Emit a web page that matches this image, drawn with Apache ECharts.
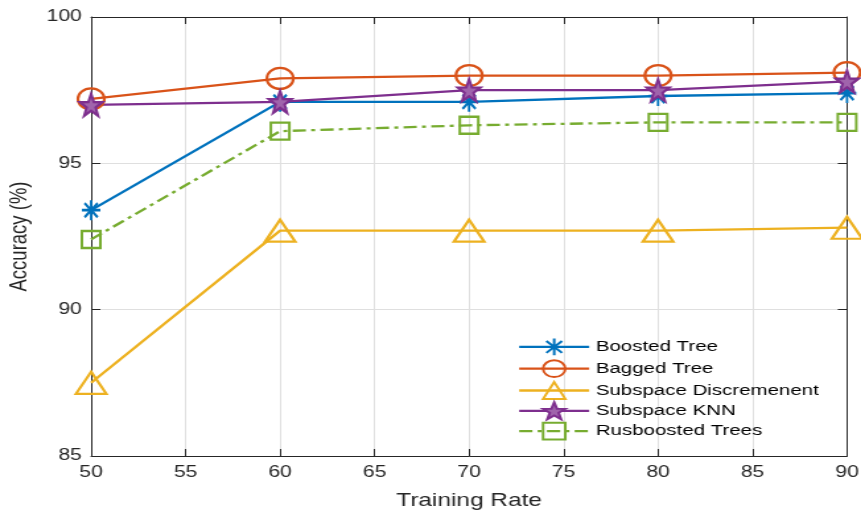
<!DOCTYPE html>
<html>
<head>
    <meta charset="UTF-8">
    <title>Accuracy vs Training Rate</title>
    <script src="https://cdn.jsdelivr.net/npm/echarts@6/dist/echarts.min.js"></script>
    <style>
        html, body { margin: 0; padding: 0; background: #fff; overflow: hidden; }
        /* the source figure is stretched horizontally, so draw narrower and widen */
        #chart { width: 652px; height: 513px; transform: scaleX(1.3206); transform-origin: 0 0; }
    </style>
</head>
<body>
    <div id="chart"></div>
    <script>
        var rates = [50, 60, 70, 80, 90];
        var boosted = [93.4, 97.1, 97.1, 97.3, 97.4];
        var bagged = [97.2, 97.9, 98.0, 98.0, 98.1];
        var subDisc = [87.5, 92.7, 92.7, 92.7, 92.8];
        var subKnn = [97.0, 97.1, 97.5, 97.5, 97.8];
        var rusboosted = [92.4, 96.1, 96.3, 96.4, 96.4];
        var names = ['Boosted Tree', 'Bagged Tree', 'Subspace Discremenent', 'Subspace KNN', 'Rusboosted Trees'];

        var font = 'Liberation Sans, Arial, sans-serif';
        var axisCol = '#262626';
        var asterisk = 'path://M0,-10L0,10M-10,0L10,0M-7.07,-7.07L7.07,7.07M-7.07,7.07L7.07,-7.07';
        var star = 'path://M0,-10L2.35,-3.24L9.51,-3.09L3.8,1.24L5.88,8.09L0,4L-5.88,8.09L-3.8,1.24L-9.51,-3.09L-2.35,-3.24Z';

        function pairs(vals) {
            return rates.map(function (r, i) { return [r, vals[i]]; });
        }

        function mk(name, vals, color, symbol, size, lineType, fill) {
            return {
                name: name,
                type: 'line',
                data: pairs(vals),
                symbol: symbol,
                symbolSize: size,
                showAllSymbol: true,
                lineStyle: { color: color, width: 2.3, type: lineType },
                itemStyle: { color: fill, borderColor: color, borderWidth: 2.2 },
                emphasis: { disabled: true },
                z: 3
            };
        }

        function edgeAxis(kind, pos) {
            var a = {
                type: 'value', position: pos,
                axisLine: { show: true, lineStyle: { color: axisCol, width: 1 } },
                axisTick: { show: true, inside: true, length: 7, lineStyle: { color: axisCol } },
                axisLabel: { show: false },
                splitLine: { show: false }
            };
            if (kind === 'x') { a.min = 50; a.max = 90; a.interval = 5; }
            else { a.min = 85; a.max = 100; a.interval = 5; }
            return a;
        }

        var chart = echarts.init(document.getElementById('chart'), null, { renderer: 'canvas' });
        chart.setOption({
            animation: false,
            textStyle: { fontFamily: font },
            grid: { left: 69, right: 10.6, top: 17, bottom: 57, outerBoundsMode: 'none', containLabel: false },
            legend: {
                orient: 'vertical',
                left: 392,
                top: 336,
                padding: 0,
                itemWidth: 53,
                itemHeight: 21,
                itemGap: 0,
                lineStyle: { width: 2.3 },
                textStyle: { fontFamily: font, fontSize: 15.5, color: '#000' },
                data: names
            },
            xAxis: [{
                type: 'value', min: 50, max: 90, interval: 5,
                name: 'Training Rate', nameLocation: 'middle', nameGap: 35,
                nameTextStyle: { fontSize: 18.5, color: '#262626' },
                axisLine: { show: true, lineStyle: { color: axisCol, width: 1 } },
                axisTick: { show: true, inside: true, length: 7, lineStyle: { color: axisCol } },
                axisLabel: { fontSize: 16, color: '#262626', margin: 9 },
                splitLine: { show: true, lineStyle: { color: '#dfdfdf', width: 1 } }
            }, edgeAxis('x', 'top')],
            yAxis: [{
                type: 'value', min: 85, max: 100, interval: 5,
                name: 'Accuracy (%)', nameLocation: 'middle', nameGap: 44,
                nameTextStyle: { fontSize: 18.5, color: '#262626' },
                axisLine: { show: true, lineStyle: { color: axisCol, width: 1 } },
                axisTick: { show: true, inside: true, length: 7, lineStyle: { color: axisCol } },
                axisLabel: { fontSize: 16, color: '#262626', margin: 7 },
                splitLine: { show: true, lineStyle: { color: '#dfdfdf', width: 1 } }
            }, edgeAxis('y', 'right')],
            series: [
                mk(names[0], boosted, '#0072BD', asterisk, [14, 20], 'solid', 'none'),
                mk(names[1], bagged, '#D95319', 'circle', [20, 21], 'solid', 'none'),
                mk(names[2], subDisc, '#EDB120', 'triangle', [23, 22], 'solid', 'none'),
                mk(names[3], subKnn, '#7E2F8E', star, [17, 22], 'solid', '#a064ac'),
                mk(names[4], rusboosted, '#77AC30', 'rect', [14, 17], [10, 4, 3, 4], 'none')
            ]
        });
    </script>
</body>
</html>
